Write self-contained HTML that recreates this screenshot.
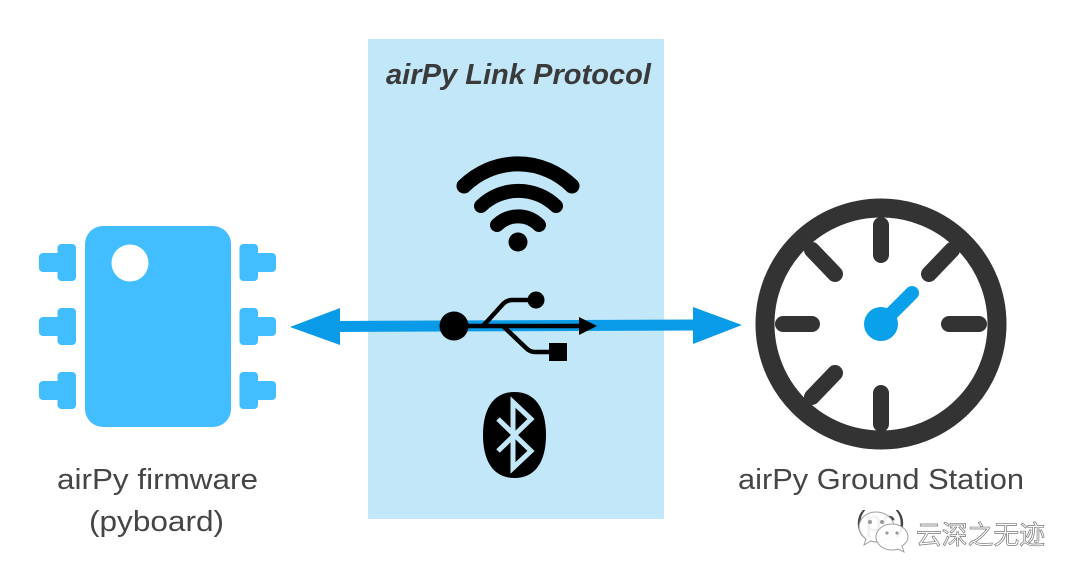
<!DOCTYPE html>
<html lang="en">
<head>
<meta charset="utf-8">
<title>airPy Link Protocol</title>
<style>
html,body{margin:0;padding:0;background:#fff;width:1080px;height:581px;overflow:hidden}
svg{display:block}
text{font-family:"Liberation Sans","Noto Sans CJK SC",sans-serif}
</style>
</head>
<body>
<svg width="1080" height="581" viewBox="0 0 1080 581" xmlns="http://www.w3.org/2000/svg">
<rect width="1080" height="581" fill="#fff"/>
<rect x="368" y="39" width="296" height="480" fill="#c2e7f8"/>

<!-- chip -->
<g fill="#42bdff">
<rect x="85" y="226" width="146" height="201" rx="18"/>
<rect x="57.500" y="244" width="18.500" height="37" rx="4"/><rect x="39" y="253" width="25" height="19" rx="4"/>
<rect x="57.500" y="308" width="18.500" height="37" rx="4"/><rect x="39" y="317" width="25" height="19" rx="4"/>
<rect x="57.500" y="372" width="18.500" height="37" rx="4"/><rect x="39" y="381" width="25" height="19" rx="4"/>
<rect x="239.500" y="244" width="18.500" height="37" rx="4"/><rect x="252" y="253" width="24" height="19" rx="4"/>
<rect x="239.500" y="308" width="18.500" height="37" rx="4"/><rect x="252" y="317" width="24" height="19" rx="4"/>
<rect x="239.500" y="372" width="18.500" height="37" rx="4"/><rect x="252" y="381" width="24" height="19" rx="4"/>
</g>
<circle cx="130" cy="263" r="18.500" fill="#fff"/>

<!-- double arrow -->
<path d="M335 326.500L693 325" stroke="#0a9be8" stroke-width="11" fill="none"/>
<path d="M290 327L340 308V345Z" fill="#0a9be8"/>
<path d="M742 325L693 307V344Z" fill="#0a9be8"/>

<!-- wifi -->
<g fill="none" stroke="#000" stroke-linecap="round">
<path d="M464 186A77 77 0 0 1 572 186" stroke-width="15"/>
<path d="M481 206A54 54 0 0 1 556 206" stroke-width="14"/>
<path d="M497 225A30 30 0 0 1 539 225" stroke-width="14"/>
</g>
<circle cx="518" cy="242" r="9.500" fill="#000"/>

<!-- usb -->
<circle cx="454" cy="326" r="14.500" fill="#000"/>
<g fill="none" stroke="#000" stroke-width="4.500">
<path d="M454 326H584"/>
<path d="M483 326L503 304Q507 300 512 300H536"/>
<path d="M503 326L526 348Q530 352 535 352H552"/>
</g>
<circle cx="536" cy="300" r="8.500" fill="#000"/>
<rect x="549" y="343" width="18" height="18" fill="#000"/>
<path d="M597 326L579 317V335Z" fill="#000"/>

<!-- bluetooth -->
<path d="M514.500 392C535 392 546 408 546 435C546 462 535 478 514.500 478C494 478 483 462 483 435C483 408 494 392 514.500 392Z" fill="#000"/>
<path d="M498 419L531 451L513 468V402L531 419L498 451" fill="none" stroke="#c2e7f8" stroke-width="5"/>

<!-- gauge -->
<circle cx="881" cy="324" r="116" fill="#fff" stroke="#333" stroke-width="19"/>
<g stroke="#333" stroke-width="16" stroke-linecap="round">
<path d="M881 225V255M881 393V424M783 324H812M949 324H979M812 250L835 274M952 250L929 274M812 397L835 373"/>
</g>
<path d="M881 324L912 293" stroke="#0aa0ea" stroke-width="14" stroke-linecap="round"/>
<circle cx="881" cy="324" r="17" fill="#0aa0ea"/>

<!-- labels -->
<g fill="#454545" font-size="29">
<text x="57" y="489" textLength="201" lengthAdjust="spacingAndGlyphs">airPy firmware</text>
<text x="89" y="531" textLength="135" lengthAdjust="spacingAndGlyphs">(pyboard)</text>
<text x="738" y="489" textLength="286" lengthAdjust="spacingAndGlyphs">airPy Ground Station</text>
<text x="856" y="531" textLength="49" lengthAdjust="spacingAndGlyphs">(pc)</text>
</g>
<text x="386" y="84" font-size="29" font-weight="bold" font-style="italic" fill="#3a3a3a" textLength="265" lengthAdjust="spacingAndGlyphs">airPy Link Protocol</text>

<!-- watermark -->
<g fill="#fff" fill-opacity="0.92" stroke="#a0a0a0" stroke-width="1">
<path d="M876 512C866 512 859 519 859 527C859 532 862 536 866 539L864 545L871 541C873 542 875 542 877 542C886 542 894 535 894 527C894 519 886 512 876 512Z"/>
<path d="M892 524C883 524 876 530 876 537C876 544 883 550 892 550C894 550 896 550 898 549L904 552L902 546C905 544 908 541 908 537C908 530 901 524 892 524Z"/>
</g>
<g fill="#9a9a9a"><circle cx="870" cy="522" r="2"/><circle cx="882" cy="522" r="2"/><circle cx="887" cy="533" r="1.600"/><circle cx="897" cy="533" r="1.600"/></g>
<text x="916" y="544" font-size="26" fill="#fff" stroke="#777" stroke-width="0.700" textLength="129" lengthAdjust="spacingAndGlyphs">云深之无迹</text>
</svg>
</body>
</html>
